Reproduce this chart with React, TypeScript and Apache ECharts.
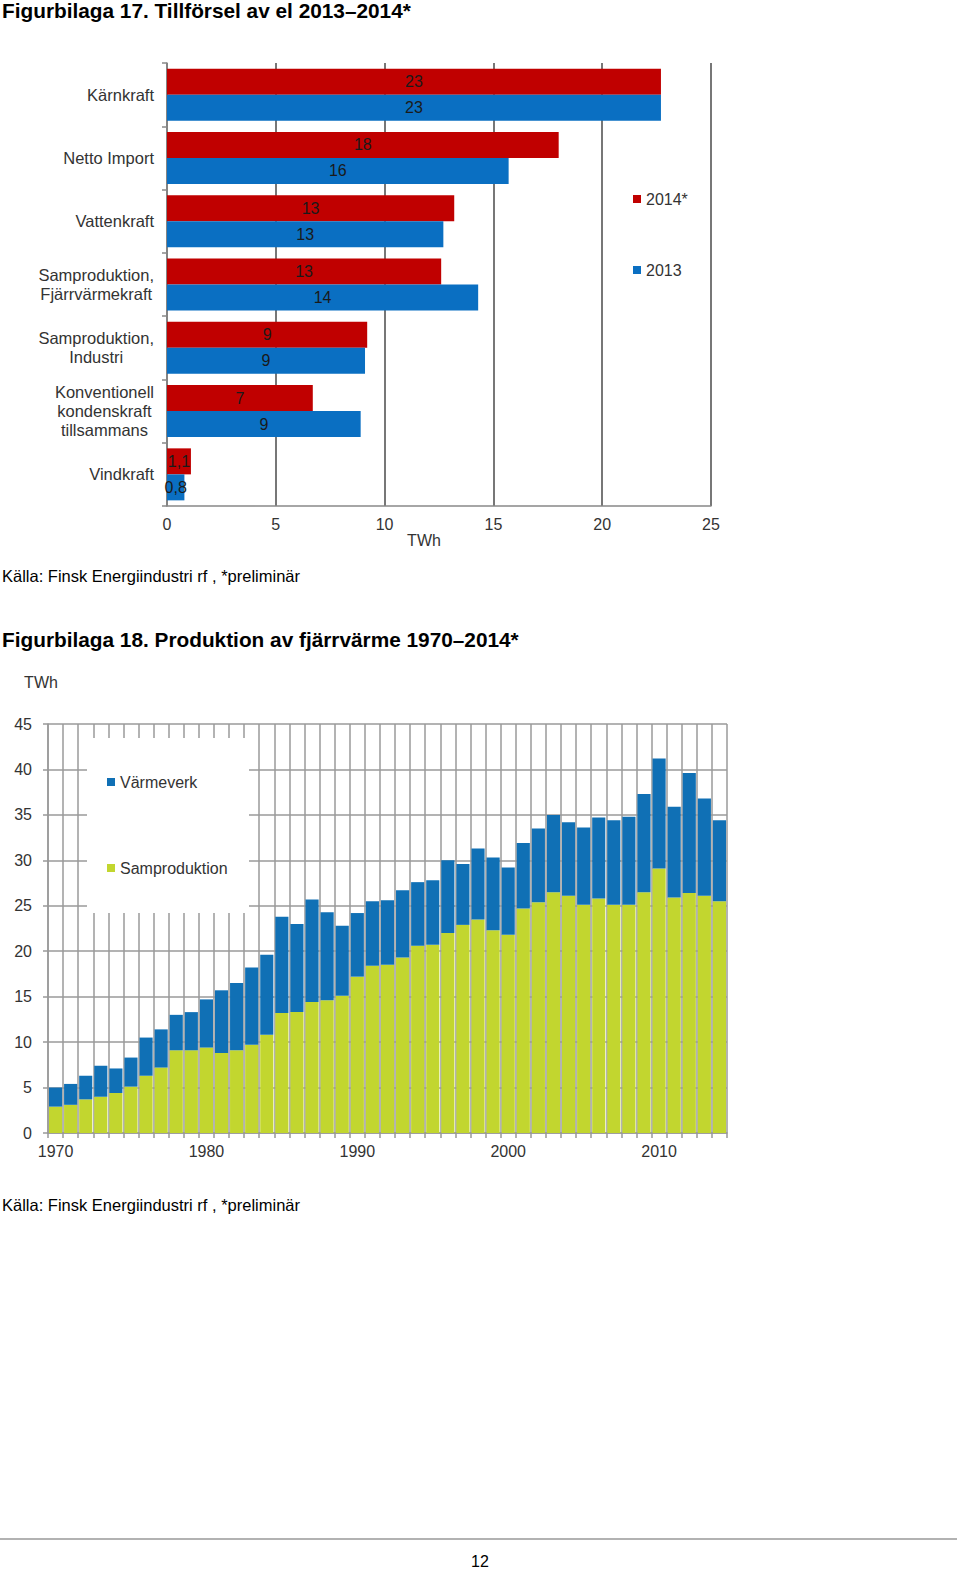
import * as echarts from 'echarts';
import { useEffect, useRef } from 'react';

// Figurbilaga 17 – Tillförsel av el (TWh)
const supplyCategories = [
  'Kärnkraft',
  'Netto Import',
  'Vattenkraft',
  'Samproduktion,\nFjärrvärmekraft',
  'Samproduktion,\nIndustri',
  'Konventionell\nkondenskraft\ntillsammans',
  'Vindkraft',
];
const supply2014 = [22.7, 18.0, 13.2, 12.6, 9.2, 6.7, 1.1];
const supply2013 = [22.7, 15.7, 12.7, 14.3, 9.1, 8.9, 0.8];

// Figurbilaga 18 – Produktion av fjärrvärme (TWh)
const years = Array.from({ length: 45 }, (_, i) => String(1970 + i));
const samproduktion = [
  2.9, 3.1, 3.7, 4.0, 4.4, 5.1, 6.3, 7.2, 9.1, 9.1,
  9.4, 8.8, 9.1, 9.7, 10.8, 13.2, 13.3, 14.4, 14.6, 15.1,
  17.2, 18.4, 18.5, 19.3, 20.6, 20.7, 22.0, 22.9, 23.5, 22.3,
  21.8, 24.7, 25.4, 26.5, 26.1, 25.1, 25.8, 25.1, 25.1, 26.5,
  29.1, 25.9, 26.4, 26.1, 25.5,
];
const varmeverk = [
  2.1, 2.3, 2.6, 3.4, 2.7, 3.2, 4.2, 4.2, 3.9, 4.2,
  5.3, 6.9, 7.4, 8.5, 8.8, 10.6, 9.7, 11.3, 9.7, 7.7,
  7.0, 7.1, 7.1, 7.4, 7.0, 7.1, 8.0, 6.7, 7.8, 8.0,
  7.4, 7.2, 8.1, 8.5, 8.1, 8.5, 8.9, 9.3, 9.7, 10.8,
  12.1, 10.0, 13.2, 10.7, 8.9,
];

const font = '"Liberation Sans", Arial, sans-serif';
const red = '#C00000';
const blueTop = '#0A6FC2';
const blue = '#1070B5';
const green = '#C2D62F';

const fmtLabel = (p: any) =>
  p.value < 2 ? p.value.toFixed(1).replace('.', ',') : String(Math.round(p.value));

export default function App() {
  const chartRef = useRef<HTMLDivElement>(null);

  useEffect(() => {
    if (!chartRef.current) return;
    const chart = echarts.init(chartRef.current, null, { renderer: 'svg' });

    const plain = { fontWeight: 'normal', color: '#000', fontFamily: font };
    const bold = { fontWeight: 'bold', color: '#000', fontFamily: font };

    chart.setOption({
      animation: false,
      textStyle: { fontFamily: font },
      title: [
        { text: 'Figurbilaga 17. Tillförsel av el 2013–2014*', left: 2, top: 0, padding: 0, textStyle: { ...bold, fontSize: 20.8 } },
        { text: 'Källa: Finsk Energiindustri rf , *preliminär', left: 2, top: 567, padding: 0, textStyle: { ...plain, fontSize: 16.5 } },
        { text: 'Figurbilaga 18. Produktion av fjärrvärme 1970–2014*', left: 2, top: 629, padding: 0, textStyle: { ...bold, fontSize: 20.8 } },
        { text: 'Källa: Finsk Energiindustri rf , *preliminär', left: 2, top: 1196, padding: 0, textStyle: { ...plain, fontSize: 16.5 } },
        { text: '12', left: 471, top: 1553, padding: 0, textStyle: { ...plain, fontSize: 16 } },
      ],
      legend: [
        {
          data: ['2014*', '2013'],
          orient: 'vertical',
          left: 628,
          top: 186,
          itemWidth: 8,
          itemHeight: 8,
          itemGap: 55,
          icon: 'rect',
          textStyle: { fontSize: 16, color: '#333', fontFamily: font },
        },
        {
          data: ['Värmeverk', 'Samproduktion'],
          orient: 'vertical',
          left: 102,
          top: 769,
          itemWidth: 8,
          itemHeight: 8,
          itemGap: 70,
          icon: 'rect',
          textStyle: { fontSize: 16, color: '#333', fontFamily: font },
        },
      ],
      grid: [
        { left: 167, right: 249, top: 63, bottom: 1572 - 506 },
        { left: 48, right: 233, top: 724, bottom: 1572 - 1133 },
      ],
      xAxis: [
        {
          gridIndex: 0,
          type: 'value',
          min: 0,
          max: 25,
          interval: 5,
          name: 'TWh',
          nameLocation: 'middle',
          nameGap: 26,
          nameTextStyle: { fontSize: 16, color: '#333', padding: [0, 30, 0, 0] },
          axisLine: { show: true, lineStyle: { color: '#888', width: 1.5 } },
          axisTick: { show: false },
          axisLabel: { fontSize: 16, color: '#333', margin: 10 },
          splitLine: { show: true, lineStyle: { color: '#555', width: 1.6 } },
        },
        {
          gridIndex: 1,
          type: 'category',
          data: years,
          axisLine: { show: true, lineStyle: { color: '#999', width: 1.5 } },
          axisTick: { show: true, interval: 0, length: 5, lineStyle: { color: '#999', width: 1.5 } },
          axisLabel: {
            interval: (idx: number) => idx % 10 === 0,
            fontSize: 16,
            color: '#333',
            margin: 10,
          },
          splitLine: { show: true, interval: 0, lineStyle: { color: '#9a9a9a', width: 1.5 } },
        },
      ],
      yAxis: [
        {
          gridIndex: 0,
          type: 'category',
          inverse: true,
          data: supplyCategories,
          axisLine: { show: true, lineStyle: { color: '#888', width: 1.5 } },
          axisTick: { show: true, length: 5, lineStyle: { color: '#888', width: 1.5 } },
          axisLabel: {
            margin: 13,
            formatter: (v: string) => v.split('\n').map((l) => `{c|${l}}`).join('\n'),
            rich: {
              c: { align: 'center', fontSize: 16.5, color: '#333', lineHeight: 19, fontFamily: font },
            },
          },
        },
        {
          gridIndex: 1,
          type: 'value',
          min: 0,
          max: 45,
          interval: 5,
          name: 'TWh',
          nameLocation: 'end',
          nameGap: 34,
          nameTextStyle: { fontSize: 16, color: '#333', align: 'center', padding: [0, 14, 0, 0] },
          axisLine: { show: true, lineStyle: { color: '#999', width: 1.5 } },
          axisTick: { show: true, length: 5, lineStyle: { color: '#999', width: 1.5 } },
          axisLabel: { fontSize: 16, color: '#333', margin: 16 },
          splitLine: { show: true, lineStyle: { color: '#9a9a9a', width: 1.5 } },
        },
      ],
      graphic: [
        {
          type: 'rect',
          z: 1,
          shape: { x: 87, y: 738, width: 162, height: 175 },
          style: { fill: '#fff' },
        },
        {
          type: 'line',
          shape: { x1: 0, y1: 1539, x2: 957, y2: 1539 },
          style: { stroke: '#999', lineWidth: 1.5 },
        },
      ],
      series: [
        {
          name: '2014*',
          type: 'bar',
          xAxisIndex: 0,
          yAxisIndex: 0,
          data: supply2014,
          barWidth: 26,
          barGap: '0%',
          itemStyle: { color: red },
          label: { show: true, position: 'inside', fontSize: 16, color: '#1a1a1a', formatter: fmtLabel },
        },
        {
          name: '2013',
          type: 'bar',
          xAxisIndex: 0,
          yAxisIndex: 0,
          data: supply2013,
          barWidth: 26,
          barGap: '0%',
          itemStyle: { color: blueTop },
          label: { show: true, position: 'inside', fontSize: 16, color: '#1a1a1a', formatter: fmtLabel },
        },
        {
          name: 'Samproduktion',
          type: 'bar',
          xAxisIndex: 1,
          yAxisIndex: 1,
          stack: 'prod',
          data: samproduktion,
          barCategoryGap: '13%',
          itemStyle: { color: green },
        },
        {
          name: 'Värmeverk',
          type: 'bar',
          xAxisIndex: 1,
          yAxisIndex: 1,
          stack: 'prod',
          data: varmeverk,
          barCategoryGap: '13%',
          itemStyle: { color: blue },
        },
      ],
    });

    return () => chart.dispose();
  }, []);

  return (
    <div
      ref={chartRef}
      style={{ position: 'absolute', left: 0, top: 0, width: 960, height: 1572, background: '#fff' }}
    />
  );
}
